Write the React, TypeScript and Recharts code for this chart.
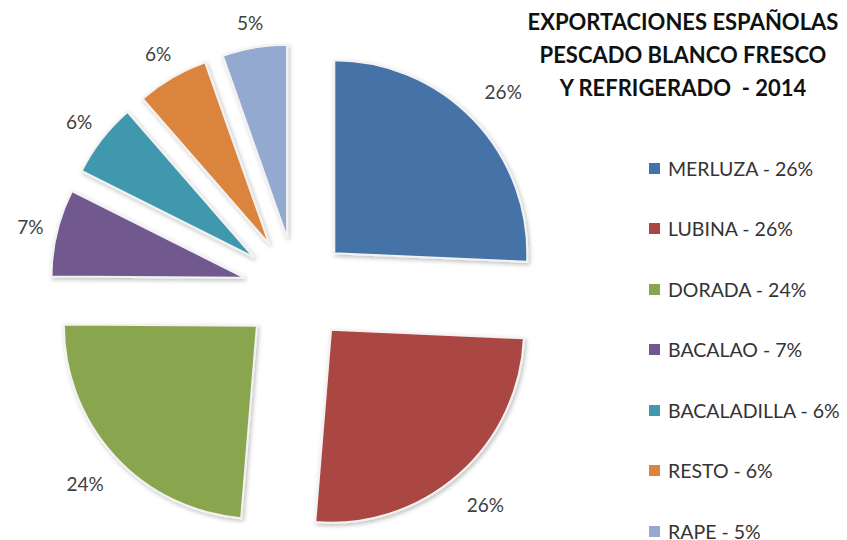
import React from 'react';
import { PieChart, Pie, Cell, Sector, Legend } from 'recharts';

const SPECIES = ['MERLUZA', 'LUBINA', 'DORADA', 'BACALAO', 'BACALADILLA', 'RESTO', 'RAPE'];
const SHARES = [25.7, 25.6, 23.8, 7.3, 6.2, 6.0, 5.4];
const COLORS = ['#4572A7', '#AA4643', '#89A54E', '#71588F', '#4198AF', '#DB843D', '#93A9CF'];
const TITLE_LINES = ['EXPORTACIONES ESPAÑOLAS', 'PESCADO BLANCO FRESCO', 'Y REFRIGERADO  - 2014'];

const data = SPECIES.map((name, i) => ({ name, value: SHARES[i] }));
const total = SHARES.reduce((a, b) => a + b, 0);

const RADIAN = Math.PI / 180;
const EXPLODE = 53;
const FONT = 'Lato, "Open Sans", sans-serif';
const LABEL_SIZE = 19;

// every slice is pulled out along its mid angle, like Excel's exploded pie
const renderSlice = (props: any) => {
  const { cx, cy, midAngle, outerRadius, startAngle, endAngle, percent, index } = props;
  const cos = Math.cos(-midAngle * RADIAN);
  const sin = Math.sin(-midAngle * RADIAN);
  const ox = cx + EXPLODE * cos;
  const oy = cy + EXPLODE * sin;
  const text = `${Math.round(percent * 100)}%`;
  // label box sits just outside the arc, so push its centre by half its size
  const w = text.length * LABEL_SIZE * 0.52;
  const h = LABEL_SIZE;
  const gap = 12 + 45 * percent;
  const lr = outerRadius + gap + (w / 2) * Math.abs(cos) + (h / 2) * Math.abs(sin);
  return (
    <g key={`slice-${index}`}>
      <Sector
        cx={ox}
        cy={oy}
        innerRadius={0}
        outerRadius={outerRadius}
        startAngle={startAngle}
        endAngle={endAngle}
        fill={COLORS[index]}
        stroke="#f2f2f2"
        strokeWidth={2}
        filter="url(#sliceShadow)"
      />
      <text
        x={ox + lr * cos}
        y={oy + lr * sin}
        textAnchor="middle"
        dominantBaseline="central"
        fill="#404040"
        fontSize={LABEL_SIZE}
        fontFamily={FONT}
      >
        {text}
      </text>
    </g>
  );
};

const renderLegend = (props: any) => {
  const payload = [...(props.payload || [])].sort(
    (a: any, b: any) => SPECIES.indexOf(a.value) - SPECIES.indexOf(b.value)
  );
  return (
    <div style={{ fontFamily: FONT, fontSize: 19.5, color: '#333' }}>
      {payload.map((entry: any, i: number) => {
        const idx = SPECIES.indexOf(entry.value);
        return (
          <div key={`leg-${i}`} style={{ display: 'flex', alignItems: 'center', height: 60.5 }}>
            <span style={{ width: 11, height: 11, background: COLORS[idx], marginRight: 8, display: 'inline-block' }} />
            <span>
              {entry.value} - {Math.round((SHARES[idx] / total) * 100)}%
            </span>
          </div>
        );
      })}
    </div>
  );
};

export default function App() {
  return (
    <div style={{ position: 'absolute', left: 0, top: 0, width: 847, height: 540, background: '#fff', overflow: 'hidden' }}>
      <svg width={0} height={0} style={{ position: 'absolute' }}>
        <defs>
          <filter id="sliceShadow" x="-20%" y="-20%" width="140%" height="140%">
            <feDropShadow dx={1.5} dy={2} stdDeviation={2} floodColor="#000" floodOpacity={0.25} />
          </filter>
        </defs>
      </svg>
      <PieChart width={847} height={540} margin={{ top: 0, right: 0, bottom: 0, left: 0 }}>
        <Pie
          data={data}
          dataKey="value"
          nameKey="name"
          cx={296}
          cy={290}
          outerRadius={193}
          startAngle={90}
          endAngle={-270}
          fillOpacity={0}
          stroke="none"
          label={renderSlice}
          labelLine={false}
          isAnimationActive={false}
        >
          {data.map((d, i) => (
            <Cell key={`cell-${i}`} fill={COLORS[i]} />
          ))}
        </Pie>
        <Legend
          layout="vertical"
          align="right"
          verticalAlign="top"
          content={renderLegend}
          wrapperStyle={{ position: 'absolute', left: 649, top: 138, width: 198 }}
        />
      </PieChart>
      <div
        style={{
          position: 'absolute',
          left: 520,
          top: 5,
          width: 326,
          textAlign: 'center',
          fontFamily: FONT,
          fontWeight: 700,
          fontSize: 22,
          lineHeight: '33px',
          color: '#111',
          whiteSpace: 'pre',
        }}
      >
        {TITLE_LINES.map((l) => (
          <div key={l}>{l}</div>
        ))}
      </div>
    </div>
  );
}
